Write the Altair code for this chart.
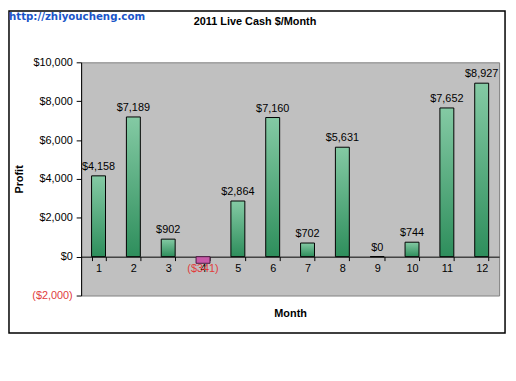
import altair as alt
import pandas as pd

months = [1, 2, 3, 4, 5, 6, 7, 8, 9, 10, 11, 12]
profits = [4158, 7189, 902, -341, 2864, 7160, 702, 5631, 0, 744, 7652, 8927]
y_ticks = [-2000, 0, 2000, 4000, 6000, 8000, 10000]

title_text = "2011 Live Cash $/Month"
watermark = "http://zhiyoucheng.com"

df = pd.DataFrame({"month": months, "profit": profits})

W, H = 423, 236
FONT = "Liberation Sans"

label_expr = "datum.profit < 0 ? '($' + format(-datum.profit, ',') + ')' : '$' + format(datum.profit, ',')"

x_enc = alt.X(
    "month:O",
    scale=alt.Scale(paddingInner=0.6, paddingOuter=0.3),
    axis=alt.Axis(
        title="Month",
        titleFont=FONT, titleFontSize=11, titleFontWeight="bold", titleColor="black",
        titleX=W / 2, titleY=58, titleBaseline="middle", titleAnchor="middle",
        labelAngle=0, labelFont=FONT, labelFontSize=11, labelColor="black",
        labelPadding=2, tickSize=4, tickColor="black", domainColor="black",
        tickBand="extent", offset=-(H * 2000 / 12000), grid=False,
    ),
)
y_enc = alt.Y(
    "profit:Q",
    scale=alt.Scale(domain=[-2000, 10000], nice=False),
    axis=alt.Axis(
        values=y_ticks,
        labelExpr="datum.value < 0 ? '($' + format(-datum.value, ',') + ')' : '$' + format(datum.value, ',')",
        labelColor={"condition": {"test": "datum.value < 0", "value": "#e03c3c"}, "value": "black"},
        labelFont=FONT, labelFontSize=11, labelPadding=4,
        tickSize=5, tickColor="black", domainColor="black", grid=False,
        title="Profit", titleFont=FONT, titleFontSize=11, titleFontWeight="bold",
        titleColor="black", titleAngle=-90, titleX=-62, titleY=H / 2,
        titleBaseline="middle", titleAlign="center",
    ),
)

base = alt.Chart(df).transform_calculate(lbl=label_expr)

grad = alt.Gradient(
    gradient="linear",
    stops=[alt.GradientStop(color="#84caa4", offset=0),
           alt.GradientStop(color="#2e8e5c", offset=1)],
    x1=1, x2=1, y1=0, y2=1,
)

pos_bars = base.transform_filter("datum.profit >= 0").mark_bar(
    color=grad, stroke="black", strokeWidth=1
).encode(x=x_enc, y=y_enc)

neg_bars = base.transform_filter("datum.profit < 0").mark_bar(
    color="#c85aa8", stroke="#4a1a40", strokeWidth=1
).encode(x=x_enc, y=y_enc)

pos_text = base.transform_filter("datum.profit >= 0").mark_text(
    baseline="bottom", dy=-4, font=FONT, fontSize=11, color="black"
).encode(x=x_enc, y=y_enc, text="lbl:N")

neg_text = base.transform_filter("datum.profit < 0").mark_text(
    baseline="top", dy=0, font=FONT, fontSize=11, color="#e03c3c"
).encode(x=x_enc, y=y_enc, text="lbl:N")

one = alt.Data(values=[{"t": title_text, "w": watermark}])

title_mark = alt.Chart(one).mark_text(
    font=FONT, fontSize=11, fontWeight="bold", color="black", align="center", baseline="middle"
).encode(x=alt.value(176), y=alt.value(-41), text="t:N")

wm_mark = alt.Chart(one).mark_text(
    font="DejaVu Sans Condensed", fontSize=11.5, fontWeight="bold",
    color="#1a55c8", align="left", baseline="middle"
).encode(x=alt.value(-73), y=alt.value(-46), text="w:N")

border = alt.Chart(one).mark_rect(
    fill=None, stroke="black", strokeWidth=1.5
).encode(x=alt.value(-73), x2=alt.value(429), y=alt.value(-52), y2=alt.value(274))

chart = alt.layer(
    border, pos_bars, neg_bars, pos_text, neg_text, title_mark, wm_mark
).properties(
    width=W, height=H,
    autosize=alt.AutoSizeParams(type="none"),
    padding={"left": 74, "top": 53, "right": 9, "bottom": 41},
).configure(
    background="white"
).configure_view(
    fill="#c0c0c0", stroke="#808080", strokeWidth=1
)

chart.save("out.html", embed_options={"renderer": "svg", "actions": False})
